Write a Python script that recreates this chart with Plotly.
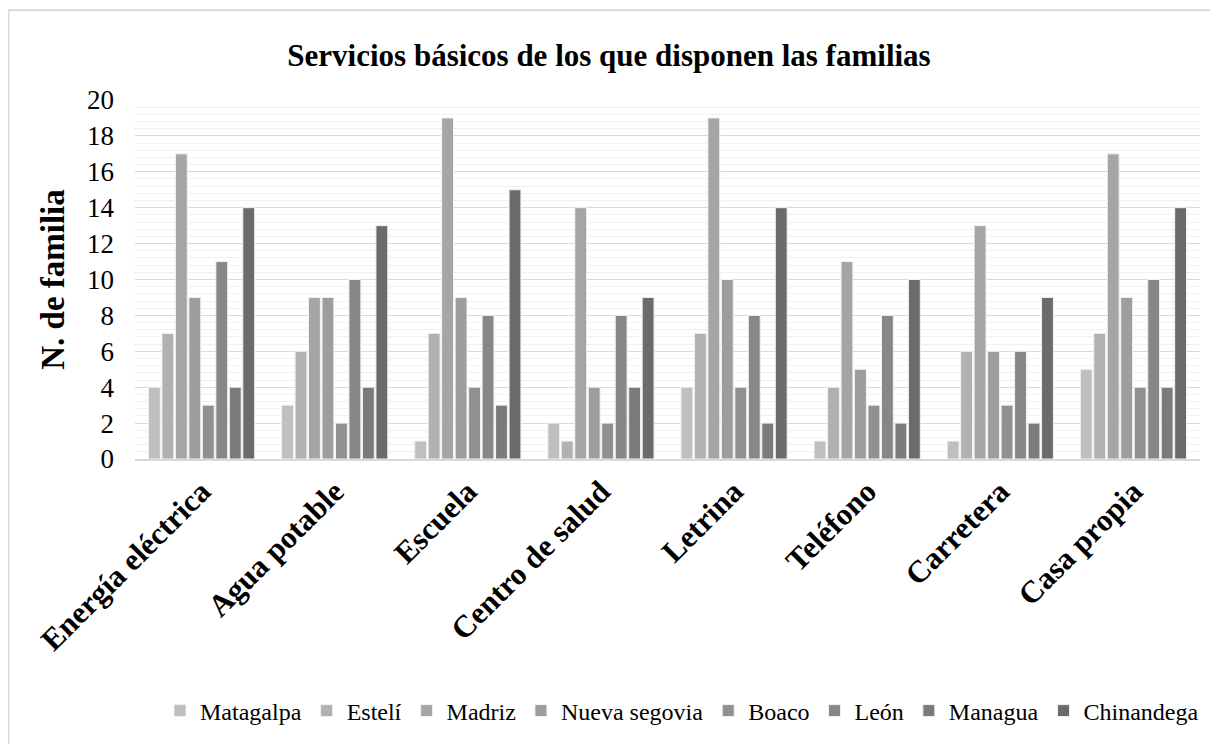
import plotly.graph_objects as go

categories = ["Energía eléctrica", "Agua potable", "Escuela", "Centro de salud",
              "Letrina", "Teléfono", "Carretera", "Casa propia"]

matagalpa = [4, 3, 1, 2, 4, 1, 1, 5]
esteli = [7, 6, 7, 1, 7, 4, 6, 7]
madriz = [17, 9, 19, 14, 19, 11, 13, 17]
nueva_segovia = [9, 9, 9, 4, 10, 5, 6, 9]
boaco = [3, 2, 4, 2, 4, 3, 3, 4]
leon = [11, 10, 8, 8, 8, 8, 6, 10]
managua = [4, 4, 3, 4, 2, 2, 2, 4]
chinandega = [14, 13, 15, 9, 14, 10, 9, 14]

series_names = ["Matagalpa", "Estelí", "Madriz", "Nueva segovia", "Boaco",
                "León", "Managua", "Chinandega"]
series_values = [matagalpa, esteli, madriz, nueva_segovia, boaco, leon, managua, chinandega]
colors = ["#bfbfbf", "#b1b1b1", "#a5a5a5", "#9d9d9d", "#909090", "#878787", "#7b7b7b", "#6b6b6b"]

fig = go.Figure()
for name, vals, col in zip(series_names, series_values, colors):
    fig.add_trace(go.Bar(
        x=categories, y=vals, name=name,
        marker=dict(color=col, line=dict(color="#f2f2f2", width=1)),
    ))

font_family = "Times New Roman"

W, H = 1210, 736
L, T = 127, 92
PW, PH = 1065, 360

fig.update_layout(
    width=W, height=H,
    paper_bgcolor="white", plot_bgcolor="white",
    barmode="group", bargap=0.19, bargroupgap=0.12,
    margin=dict(l=L, r=W - L - PW, t=T, b=H - T - PH),
    font=dict(family=font_family, color="#000000", weight="normal"),
    title=dict(text="<b>Servicios básicos de los que disponen las familias</b>",
               x=0.5 - 4 / W, xanchor="center", y=1 - 47 / H, yanchor="middle",
               font=dict(size=31, family=font_family, color="#000000")),
    legend=dict(orientation="h", x=(674 - L) / PW, xanchor="center",
                y=(T + PH - 703) / PH, yanchor="middle",
                font=dict(size=24, family=font_family, color="#000000", weight="normal"),
                traceorder="normal", itemwidth=30, tracegroupgap=0),
    showlegend=True,
)

fig.update_xaxes(
    tickangle=-45, tickfont=dict(size=31, family=font_family, color="#000000"),
    tickprefix="<b>", ticksuffix="</b>",
    showline=True, linecolor="#d9d9d9", linewidth=2,
    showgrid=False, ticks="", automargin=False,
)
fig.update_yaxes(
    range=[0, 20], dtick=2, tick0=0,
    tickfont=dict(size=27, family=font_family, color="#000000", weight="normal"),
    showgrid=True, gridcolor="#d9d9d9", gridwidth=1,
    minor=dict(dtick=0.4, tick0=0, showgrid=True, gridcolor="#f0f0f0", gridwidth=1),
    zeroline=False, showline=False, ticks="", automargin=False,
    ticklabelstandoff=20,
    title=dict(text="<b>N. de familia</b>", font=dict(size=33, family=font_family, color="#000000"),
               standoff=12),
)

fig.add_shape(type="rect", xref="paper", yref="paper",
              x0=(0.5 - L) / PW, x1=1.05, y0=-1.0, y1=(T + PH - 2) / PH,
              line=dict(color="#d9d9d9", width=2), fillcolor="rgba(0,0,0,0)", layer="below")

fig.write_html("out.html")
